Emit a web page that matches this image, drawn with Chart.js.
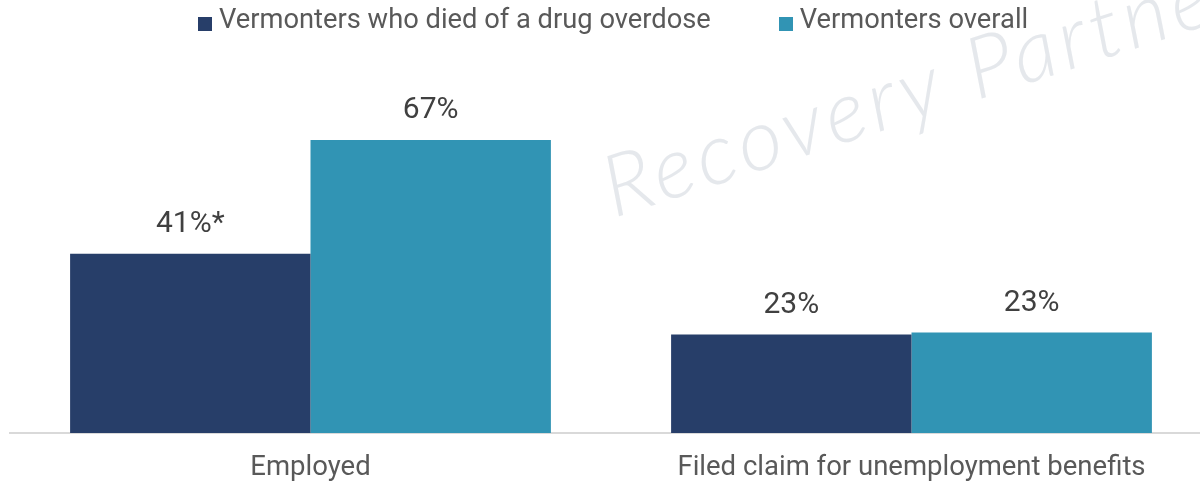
<!DOCTYPE html>
<html>
<head>
<meta charset="utf-8">
<title>Employment and unemployment claims</title>
<script src="https://cdn.jsdelivr.net/npm/chart.js@4.4.1/dist/chart.umd.min.js"></script>
<style>
  html, body { margin: 0; padding: 0; background: #fff; }
  .wrap { position: relative; width: 1200px; height: 481px; overflow: hidden; }
  #chart { position: absolute; left: 0; top: 0; }
  #legend {
    position: absolute; left: 198px; top: 3px;
    display: flex; align-items: center;
    font: 27.3px Roboto, sans-serif; color: #595959;
  }
  #legend .item { display: flex; align-items: center; margin-right: 68px; }
  #legend .swatch { width: 14px; height: 14px; margin-right: 7px; margin-top: 9px; }
</style>
</head>
<body>
<div class="wrap">
  <canvas id="chart" width="1214" height="481"></canvas>
  <div id="legend"></div>
</div>
<script>
const categories = ["Employed", "Filed claim for unemployment benefits"];
const overdoseValues = [41, 22.5];
const overallValues = [67, 23];
// footnote markers appended to the value labels
const overdoseNotes = ["*", ""];
const overallNotes = ["", ""];

const navy = "#273E69";
const teal = "#3194B4";

const valueLabels = {
	id: "valueLabels",
	afterDatasetsDraw(chart) {
		const ctx = chart.ctx;
		ctx.save();
		ctx.font = "30px Roboto, sans-serif";
		ctx.fillStyle = "#404040";
		ctx.textAlign = "center";
		ctx.textBaseline = "bottom";
		chart.data.datasets.forEach((ds, i) => {
			chart.getDatasetMeta(i).data.forEach((bar, j) => {
				const text = Math.round(ds.data[j]) + "%" + (ds.notes[j] || "");
				ctx.fillText(text, bar.x, bar.y - 14);
			});
		});
		ctx.restore();
	},
};

const watermark = {
	id: "watermark",
	beforeDatasetsDraw(chart) {
		const ctx = chart.ctx;
		ctx.save();
		ctx.translate(614, 218);
		ctx.rotate((-18 * Math.PI) / 180);
		ctx.font = "italic 300 86px Lato, sans-serif";
		ctx.letterSpacing = "5px";
		ctx.fillStyle = "rgba(226, 229, 234, 0.9)";
		ctx.fillText("Recovery Partnership", 0, 0);
		ctx.restore();
	},
};

const chart = new Chart(document.getElementById("chart"), {
	type: "bar",
	data: {
		labels: categories,
		datasets: [
			{
				label: "Vermonters who died of a drug overdose",
				data: overdoseValues,
				notes: overdoseNotes,
				backgroundColor: navy,
			},
			{
				label: "Vermonters overall",
				data: overallValues,
				notes: overallNotes,
				backgroundColor: teal,
			},
		],
	},
	options: {
		responsive: false,
		animation: false,
		layout: { padding: { left: 10, right: 2, top: 105, bottom: 0 } },
		datasets: { bar: { categoryPercentage: 0.8, barPercentage: 1 } },
		plugins: {
			legend: { display: false },
			tooltip: { enabled: false },
		},
		scales: {
			x: {
				grid: { display: false },
				border: { color: "#d9d9d9", width: 2 },
				ticks: {
					padding: 11,
					maxRotation: 0,
					color: "#595959",
					font: { family: "Roboto, sans-serif", size: 27.5 },
				},
				afterFit(scale) {
					scale.height = 48;
				},
			},
			y: {
				display: false,
				min: 0,
				max: 75,
			},
		},
	},
	plugins: [watermark, valueLabels],
});

// legend built from the datasets
const legend = document.getElementById("legend");
chart.data.datasets.forEach(ds => {
	const item = document.createElement("div");
	item.className = "item";
	const swatch = document.createElement("span");
	swatch.className = "swatch";
	swatch.style.background = ds.backgroundColor;
	const text = document.createElement("span");
	text.textContent = ds.label;
	item.appendChild(swatch);
	item.appendChild(text);
	legend.appendChild(item);
});
</script>
</body>
</html>
